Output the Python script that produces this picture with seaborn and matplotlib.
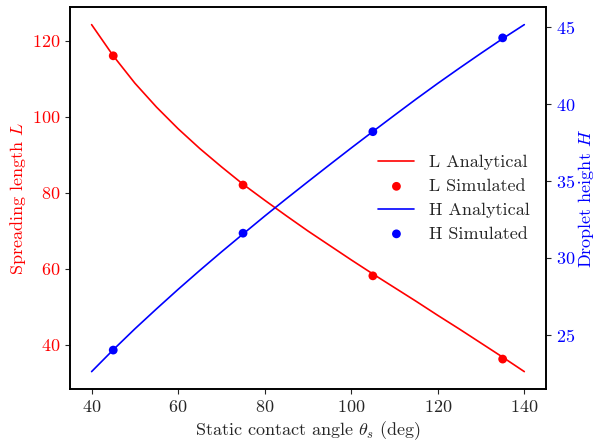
import matplotlib
matplotlib.use("Agg")
import matplotlib.pyplot as plt
import seaborn as sns
import pandas as pd

# Analytical curves (every 5 deg)
theta_an = [40, 45, 50, 55, 60, 65, 70, 75, 80, 85, 90, 95, 100, 105, 110, 115, 120, 125, 130, 135, 140]
L_an = [124.2, 116.0, 108.8, 102.5, 96.8, 91.6, 86.8, 82.2, 78.0, 73.9, 69.9, 66.1, 62.3, 58.6,
        55.0, 51.4, 47.7, 44.1, 40.4, 36.7, 32.9]
H_an = [22.60, 24.02, 25.38, 26.68, 27.95, 29.18, 30.38, 31.55, 32.71, 33.84, 34.95, 36.05,
        37.14, 38.21, 39.27, 40.32, 41.34, 42.33, 43.30, 44.25, 45.16]

# Simulated points
theta_sim = [45, 75, 105, 135]
L_sim = [116.0, 82.0, 58.1, 36.2]
H_sim = [24.0, 31.6, 38.2, 44.3]

sns.set_style("ticks")
plt.rcParams["font.family"] = ["cmr10", "DejaVu Serif"]
plt.rcParams["mathtext.fontset"] = "cm"
plt.rcParams["axes.formatter.use_mathtext"] = True
plt.rcParams["font.size"] = 13
plt.rcParams["axes.unicode_minus"] = False

df_an = pd.DataFrame({"theta": theta_an, "L": L_an, "H": H_an})
df_sim = pd.DataFrame({"theta": theta_sim, "L": L_sim, "H": H_sim})

fig = plt.figure(figsize=(5.96, 4.42), dpi=100)
ax = fig.add_axes([0.1174, 0.12, 0.7986, 0.8635])
ax2 = ax.twinx()

sns.lineplot(data=df_an, x="theta", y="L", ax=ax, color="red", lw=1.2, label="L Analytical", legend=False)
sns.scatterplot(data=df_sim, x="theta", y="L", ax=ax, color="red", s=40, edgecolor="none",
                label="L Simulated", legend=False, zorder=3)
sns.lineplot(data=df_an, x="theta", y="H", ax=ax2, color="blue", lw=1.2, label="H Analytical", legend=False)
sns.scatterplot(data=df_sim, x="theta", y="H", ax=ax2, color="blue", s=40, edgecolor="none",
                label="H Simulated", legend=False, zorder=3)

ax.set_xlabel(r"Static contact angle $\theta_s$ (deg)", fontsize=13, labelpad=3)
ax.set_ylabel(r"Spreading length $L$", color="red", fontsize=13, labelpad=3)
ax2.set_ylabel(r"Droplet height $H$", color="blue", fontsize=13, labelpad=1)
ax.set_xticks([40, 60, 80, 100, 120, 140])
ax.set_yticks([40, 60, 80, 100, 120])
ax2.set_yticks([25, 30, 35, 40, 45])
ax.tick_params(axis="y", labelcolor="red", labelsize=13)
ax.tick_params(axis="x", labelsize=13)
ax2.tick_params(axis="y", labelcolor="blue", labelsize=13)
for a in (ax, ax2):
    for s in a.spines.values():
        s.set_linewidth(1.2)
        s.set_color("black")

h1, l1 = ax.get_legend_handles_labels()
h2, l2 = ax2.get_legend_handles_labels()
ax2.legend(h1 + h2, l1 + l2, loc="center right", frameon=False, fontsize=13, labelspacing=0.45)

fig.savefig("out.png", dpi=100)
